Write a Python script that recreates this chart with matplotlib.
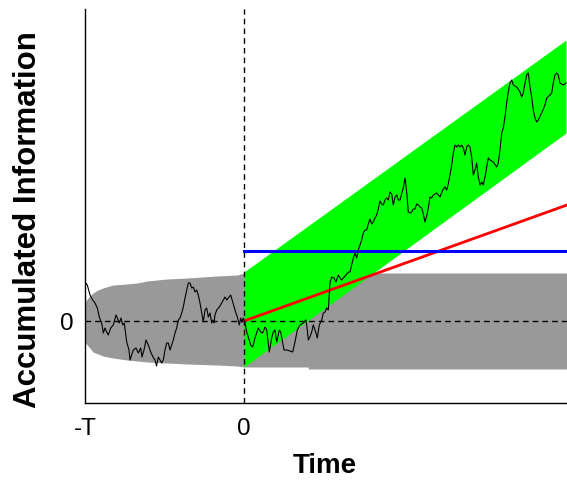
import matplotlib
matplotlib.use("Agg")
import matplotlib.pyplot as plt

plt.rcParams['font.family'] = ['Liberation Sans', 'DejaVu Sans']

T = 159
t_end = 323

# random-walk (accumulated information)
walk_t = [-159, -156.7, -154, -151.3, -149, -146.7, -144.7, -142.3, -140.7, -139, -137.3, -135.7,
          -133.3, -130.7, -128, -126.7, -124.7, -123, -121.3, -119.7, -117.3, -115, -114, -112.3,
          -110.7, -108, -105.7, -103.3, -102, -100, -98, -95.7, -93.3, -91, -89, -87.5, -85.7, -84,
          -82.3, -80.7, -79, -77.3, -75.7, -74, -72.3, -70.7, -69, -67.3, -65.7, -64, -62.3, -60.7,
          -59, -57.3, -55.7, -54, -52.3, -50.7, -49, -47.3, -45.7, -44, -42.3, -40.7, -39, -37.3,
          -35.7, -34, -32.3, -31.3, -30, -29, -27.3, -24.7, -22.3, -20.7, -19, -17.3, -15.7, -13.3,
          -11.3, -9, -6.7, -4.7, -3.3, -2.3, -0.7, 1, 2.7, 4.3, 6.7, 8.7, 11, 14.3, 16.7, 18.7, 21,
          22.7, 25.3, 27.7, 29.3, 31, 32.7, 35.3, 36.7, 38.7, 40, 42.7, 46, 48.7, 51, 53.3, 56, 59.3,
          62, 63.3, 64.3, 66, 67.7, 69.3, 72, 73.3, 75.3, 77.7, 79.3, 81, 82.7, 84.3, 86, 87.7, 90,
          92, 94.3, 96, 97.7, 99.3, 102, 104.3, 106, 107.7, 109.3, 111, 112.7, 114.3, 116, 117.7,
          119.3, 121, 122.7, 124.3, 126, 127.7, 129.3, 131, 132.7, 134.3, 136, 137.7, 139.3, 141,
          142.7, 144.3, 146, 147.7, 149.3, 151, 152.7, 154.3, 156, 157.7, 159.3, 161, 162.7, 164.3,
          166, 167.7, 169.3, 171, 172.7, 174.3, 176, 177.7, 179.3, 181, 182.7, 184.3, 186, 187.7,
          189.3, 192.7, 196, 197.7, 199.3, 201, 202.7, 204.3, 206, 207.7, 209.3, 211, 212.7, 214.3,
          216, 217.7, 219.3, 221, 222.7, 224.3, 226, 227.7, 229.3, 231, 232.7, 234.3, 236, 237.7,
          239.3, 241, 242.7, 244.3, 246, 249.3, 252.7, 254.3, 256, 257.7, 259.3, 261, 262.7, 264.3,
          266, 267.7, 269.3, 272.7, 276, 277.7, 279.3, 281, 282.7, 284.3, 286, 287.7, 289.3, 291,
          292.7, 294.3, 297.7, 301, 302.7, 306, 307.7, 309.3, 311, 312.7, 314.3, 316, 319.3, 322]
walk_y = [39, 36, 26, 21, 18, 13, 4, -2, -12, -7, -11, -14,
          -7, -4, 6, 3, -2, 3, -4, -2, -21, -29, -39, -34,
          -29, -27, -32, -27, -36, -29, -19, -24, -31, -36, -39, -45, -36, -39,
          -42, -39, -29, -22, -22, -29, -24, -19, -12, -7, 1, 3, 8, 14,
          23, 31, 38, 38, 33, 34, 29, 31, 26, 18, 8, -1, 11, 13,
          4, 8, -2, 1, -2, 6, 11, 14, 18, 21, 24, 21, 23, 26,
          19, 11, 4, -4, 3, -1, 3, -2, -11, -16, -24, -26, -17, -7, -11, -12, -6,
          -9, -31, -17, -11, -9, -21, -9, -11, -22, -29, -29, -30, -31, -21, -9, -4, -2,
          1, -9, -19, -16, -11, -4, -12, -17, -4, 1, 8, 9, 13, 11, 38, 44, 43,
          39, 46, 43, 41, 43, 46, 49, 49, 56, 63, 68, 63, 71, 76, 81,
          88, 91, 91, 97, 102, 97, 99, 103, 106, 112, 120, 117, 116, 121,
          123, 121, 129, 127, 116, 124, 126, 121, 121, 127, 133, 143, 129, 109,
          108, 109, 112, 112, 117, 116, 114, 113, 107, 99, 105, 113, 124, 123,
          126, 128, 124, 128, 132, 134, 131, 137, 146, 156, 168, 176, 174, 176,
          174, 176, 173, 166, 174, 176, 174, 164, 146, 151, 158, 144, 136, 139,
          136, 144, 154, 163, 161, 159, 154, 158, 171, 188, 193, 204, 218, 229,
          238, 241, 236, 234, 229, 224, 228, 238, 246, 248, 234, 224, 211, 203,
          199, 201, 208, 216, 223, 226, 228, 238, 246, 248, 246, 238, 236, 238]

# grey band (spread without information)
grey_t = [-159, -156, -154, -151, -146, -141, -131, -117, -107, -97, -77, -57, -27, -7, 0, 64, 64.5, 323]
grey_up = [19, 23, 25, 28, 31, 33, 36, 37, 38, 40, 42, 43, 45, 46, 48, 48, 48, 48]
grey_lo = [-21, -25, -27, -31, -33, -35, -37, -39, -40, -41, -42, -43, -44, -45, -46, -46, -48, -48]

# green band (with drift)
green_t = [0, 322]
green_up = [49, 281]
green_lo = [-46, 188]

# red drift line and blue threshold
red_t = [0, 323]
red_y = [0, 116]
blue_t = [0, 323]
blue_y = [70, 70]

W, H = 567, 480
fig = plt.figure(figsize=(W / 100, H / 100), dpi=100)
ax = fig.add_axes([85 / W, 77 / H, (567 - 85) / W, (403 - 9) / H])

ax.fill_between(grey_t, grey_lo, grey_up, color='#999999', lw=0, zorder=1)
ax.fill_between(green_t, green_lo, green_up, color='#00ff00', lw=0, zorder=2)
ax.axhline(0, color='black', ls=(0, (4, 3)), lw=1, zorder=3)
ax.axvline(0, color='black', ls=(0, (4, 3)), lw=1, zorder=3)
ax.plot(red_t, red_y, color='#ff0000', lw=2, zorder=4)
ax.plot(blue_t, blue_y, color='#0000ff', lw=2.2, zorder=4)
ax.plot(walk_t, walk_y, color='black', lw=0.8, zorder=5)

ax.set_xlim(-T, t_end)
ax.set_ylim(-82, 312)
ax.spines['top'].set_visible(False)
ax.spines['right'].set_visible(False)
for s in ['left', 'bottom']:
    ax.spines[s].set_linewidth(1)
ax.set_xticks([-T, 0])
ax.set_xticklabels(['-T', '0'])
ax.set_yticks([0])
ax.set_yticklabels(['0'])
ax.tick_params(length=0, labelsize=17.5)
ax.tick_params(axis='x', pad=10.5)
ax.tick_params(axis='y', pad=8)

fig.text(325 / W, 7 / H, 'Time', fontsize=20, fontweight='bold',
         ha='center', va='baseline')
fig.text(36 / W, 1 - 220 / H, 'Accumulated Information', fontsize=22.5,
         fontweight='bold', rotation=90, rotation_mode='anchor',
         ha='center', va='baseline')

fig.savefig('out.png', dpi=100)
